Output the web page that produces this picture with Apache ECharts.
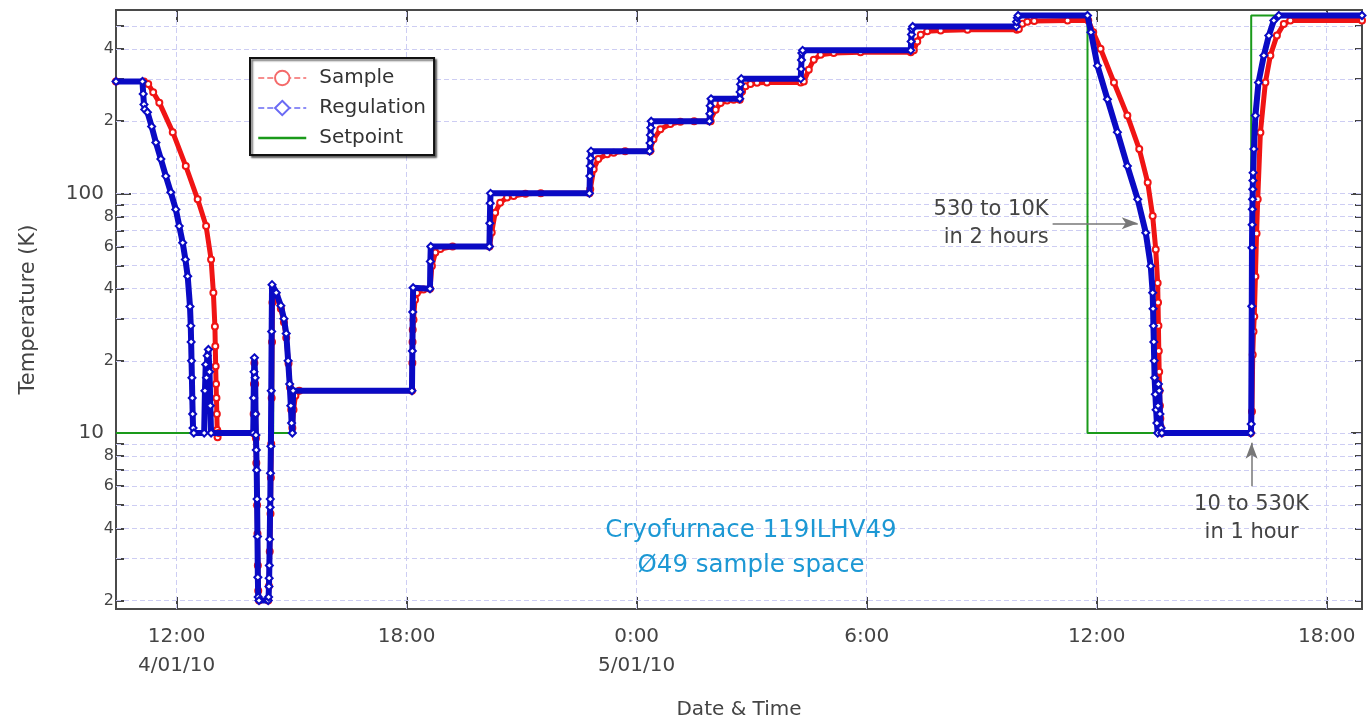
<!DOCTYPE html>
<html>
<head>
<meta charset="utf-8">
<script src="https://cdn.jsdelivr.net/npm/echarts@6/dist/echarts.min.js"></script>
<style>
  html, body { margin: 0; padding: 0; background: #fff; }
  #chart { width: 1369px; height: 720px; }
</style>
</head>
<body>
<div id="chart"></div>
<script>
// Time is counted in hours from 4/01/10 0:00.
const timeRange = [10.42, 42.92];
const tempRange = [1.844, 582];

const xTickValues = [12, 18, 24, 30, 36, 42];
const xTickLabels = ['12:00\n4/01/10', '18:00', '0:00\n5/01/10', '6:00', '12:00', '18:00'];

const yMajorTicks = [10, 100];
const yMinorTicks = [2, 3, 4, 5, 6, 7, 8, 9, 20, 30, 40, 50, 60, 70, 80, 90, 200, 300, 400, 500];
const yMajorLabels = ['10', '100'];
const yMinorLabelValues = [2, 4, 6, 8, 20, 40, 60, 80, 200, 400];
const yMinorLabels = ['2', '4', '6', '8', '2', '4', '6', '8', '2', '4'];
const yGridValues = [2, 3, 4, 5, 6, 7, 8, 9, 10, 20, 30, 40, 50, 60, 70, 80, 90, 100, 200, 300, 400, 500];

// Regulation sensor [hour, K]
const regulation = [
  [10.42, 293], [11.11, 293],
  [11.13, 260], [11.15, 235], [11.17, 224], [11.24, 218], [11.35, 190], [11.46, 163], [11.59, 139],
  [11.72, 118], [11.85, 101], [11.98, 85.7], [12.07, 73], [12.16, 62.2], [12.23, 53], [12.29, 45.1], [12.35, 33.7],
  [12.37, 28], [12.38, 24], [12.39, 20], [12.40, 17], [12.41, 14], [12.42, 12], [12.43, 10.5], [12.45, 10],
  [12.72, 10],
  [12.74, 15], [12.76, 19.3], [12.78, 17], [12.8, 21], [12.83, 22.3], [12.86, 18], [12.88, 13], [12.9, 10],
  [14.0, 10],
  [14.01, 14], [14.02, 18], [14.03, 20.6], [14.05, 17], [14.06, 12], [14.07, 9.8], [14.08, 8.5], [14.09, 7],
  [14.1, 5.3], [14.11, 3.7], [14.12, 2.5], [14.13, 2.07], [14.15, 2.0], [14.39, 2.0],
  [14.40, 2.07], [14.41, 2.29], [14.415, 2.48], [14.42, 2.8], [14.43, 3.6], [14.44, 4.9], [14.445, 5.3],
  [14.45, 6.8], [14.46, 8.8], [14.47, 15], [14.48, 26.5], [14.49, 41.6],
  [14.6, 38.5], [14.72, 34], [14.8, 30], [14.86, 26], [14.91, 20], [14.95, 16], [14.98, 13], [15.0, 11],
  [15.02, 10], [15.04, 15],
  [18.14, 15],
  [18.15, 22], [18.16, 32], [18.17, 40.4], [18.61, 40],
  [18.62, 52], [18.63, 60], [20.16, 60],
  [20.17, 75], [20.18, 91], [20.19, 100], [22.77, 100],
  [22.78, 118], [22.79, 130], [22.8, 140], [22.81, 150], [24.34, 150],
  [24.35, 162], [24.36, 175], [24.37, 188], [24.38, 200], [25.9, 200],
  [25.91, 215], [25.92, 232], [25.94, 248], [26.69, 248],
  [26.7, 265], [26.71, 285], [26.73, 301], [28.28, 301],
  [28.29, 330], [28.3, 360], [28.31, 385], [28.33, 395], [31.15, 395],
  [31.16, 430], [31.17, 460], [31.18, 485], [31.2, 497], [33.9, 497],
  [33.91, 520], [33.93, 540], [33.95, 552], [35.76, 552],
  [35.85, 470], [36.02, 341], [36.28, 247], [36.54, 180], [36.80, 130], [37.07, 94.4], [37.28, 68.5],
  [37.41, 49.7], [37.46, 38.5],
  [37.47, 33], [37.48, 28], [37.49, 24], [37.5, 20], [37.51, 17], [37.53, 14.5], [37.55, 12.5], [37.57, 11], [37.59, 10],
  [37.6, 13], [37.61, 16], [37.63, 15], [37.65, 12], [37.68, 10.5], [37.7, 10],
  [40.02, 10],
  [40.03, 10.9], [40.045, 33.8], [40.05, 59.3], [40.055, 74], [40.06, 85.8], [40.065, 94.5], [40.07, 104],
  [40.075, 113], [40.08, 122], [40.1, 153], [40.14, 211], [40.22, 290], [40.36, 376], [40.49, 455],
  [40.62, 526], [40.75, 552],
  [42.92, 552]
];

// Sample sensor [hour, K]
const sample = [
  [10.42, 293], [11.15, 293],
  [11.26, 286], [11.39, 264], [11.55, 239], [11.90, 180], [12.24, 130], [12.55, 94.4], [12.77, 73],
  [12.90, 53], [12.96, 38.5], [13.0, 27.8],
  [13.01, 23], [13.02, 19], [13.03, 16], [13.04, 14], [13.05, 12], [13.06, 10.3], [13.07, 9.6], [13.1, 10],
  [14.0, 10],
  [14.01, 12], [14.02, 16], [14.03, 19.6], [14.05, 16], [14.06, 12], [14.07, 9.5], [14.08, 7.5], [14.1, 5],
  [14.11, 3.8], [14.12, 2.8], [14.13, 2.2], [14.15, 2.0], [14.39, 2.0],
  [14.41, 2.3], [14.43, 3.2], [14.45, 4.6], [14.46, 6.5], [14.47, 9], [14.48, 14], [14.49, 24], [14.5, 35], [14.52, 39],
  [14.6, 37.5], [14.72, 33], [14.8, 29], [14.86, 25], [14.92, 19.5], [14.96, 15.5], [14.99, 12.5], [15.02, 10.5],
  [15.05, 12.5], [15.1, 14.3], [15.2, 15],
  [18.14, 15],
  [18.15, 19.6], [18.155, 24], [18.16, 27], [18.18, 29.7], [18.22, 36], [18.27, 38.4], [18.44, 39.7], [18.61, 40],
  [18.66, 49.7], [18.75, 56.6], [18.88, 58.6], [19.2, 60], [20.16, 60],
  [20.22, 68.7], [20.31, 83], [20.44, 91.4], [20.62, 96], [20.79, 97.5], [21.1, 99.5], [21.5, 100], [22.77, 100],
  [22.79, 104], [22.88, 126], [23.0, 139], [23.23, 145.5], [23.4, 147.7], [23.7, 150], [24.34, 150],
  [24.36, 151], [24.44, 168], [24.62, 185], [24.88, 194.5], [25.14, 199], [25.5, 200], [25.9, 200],
  [25.93, 200], [26.06, 223], [26.19, 238], [26.36, 244], [26.53, 246], [26.69, 246],
  [26.75, 266], [26.84, 280], [26.97, 286], [27.14, 289], [27.4, 290], [28.28, 290],
  [28.36, 293], [28.49, 328], [28.62, 361], [28.80, 379], [29.14, 385], [29.84, 388], [31.15, 388],
  [31.23, 395], [31.32, 430], [31.41, 459], [31.58, 474], [31.93, 478], [32.63, 481], [33.92, 481],
  [33.97, 485], [34.06, 510], [34.19, 520], [34.37, 524], [35.24, 526], [35.78, 526],
  [35.91, 470], [36.10, 401], [36.45, 290], [36.80, 211], [37.11, 153], [37.33, 111], [37.46, 80.4],
  [37.54, 58.3], [37.59, 42.3],
  [37.6, 35], [37.61, 28], [37.62, 22], [37.63, 18], [37.64, 15], [37.65, 13], [37.66, 11.5], [37.67, 10.6], [37.7, 10],
  [40.02, 10],
  [40.05, 12.3], [40.07, 21.2], [40.09, 26.5], [40.11, 30.6], [40.14, 45], [40.17, 68], [40.20, 94.4],
  [40.27, 179.6], [40.40, 290], [40.53, 376], [40.70, 455], [40.88, 509], [41.05, 526],
  [42.92, 526]
];

// Controller setpoint: [hour the new value starts, K]
const setpoint = [
  [10.42, 10], [14.09, 2], [14.44, 40], [14.52, 10], [14.99, 15], [18.14, 40], [18.61, 60], [20.16, 100],
  [22.77, 150], [24.34, 200], [25.9, 250], [26.69, 300], [28.28, 400], [31.15, 500], [33.9, 552],
  [35.76, 10], [40.03, 552], [42.92, 552]
];

const coolArrow = { from: [34.85, 75], to: [37.07, 75], text: '530 to 10K\nin 2 hours' };
const heatArrow = { from: [40.04, 6.0], to: [40.04, 9.1], text: '10 to 530K\nin 1 hour' };

const FONT = "'DejaVu Sans', Verdana, sans-serif";
const INK = '#444';
const FRAME = '#4a4a4a';
const GRID = '#cdcdf3';
const RED = '#f01414';
const BLUE = '#0a0ac4';
const GREEN = '#1a9a1a';

function lookup(values, texts) {
  return function (v) {
    for (let i = 0; i < values.length; i++) {
      if (Math.abs(values[i] - v) <= 1e-6 * Math.max(1, values[i])) return texts[i];
    }
    return '';
  };
}

function yAxis(position, ticks, tickLen, labelValues, labelTexts, fontSize, margin, extra) {
  return Object.assign({
    type: 'log',
    logBase: 10,
    position: position,
    min: tempRange[0],
    max: tempRange[1],
    axisLine: { show: false },
    splitLine: { show: false },
    minorTick: { show: false },
    axisTick: {
      show: true, inside: true, length: tickLen,
      customValues: ticks,
      lineStyle: { color: INK, width: 2 }
    },
    axisLabel: labelValues ? {
      show: true,
      customValues: labelValues,
      formatter: lookup(labelValues, labelTexts),
      fontFamily: FONT, fontSize: fontSize, color: INK, margin: margin
    } : { show: false }
  }, extra || {});
}

function xAxis(position, withLabels, extra) {
  return Object.assign({
    type: 'value',
    position: position,
    min: timeRange[0],
    max: timeRange[1],
    axisLine: { show: false },
    splitLine: { show: false },
    axisTick: {
      show: true, inside: true, length: 12,
      customValues: xTickValues,
      lineStyle: { color: INK, width: 2 }
    },
    axisLabel: withLabels ? {
      show: true,
      customValues: xTickValues,
      formatter: lookup(xTickValues, xTickLabels),
      fontFamily: FONT, fontSize: 20, color: INK, margin: 13, lineHeight: 29
    } : { show: false }
  }, extra || {});
}

const chart = echarts.init(document.getElementById('chart'), null, { renderer: 'canvas' });

chart.setOption({
  animation: false,
  backgroundColor: '#fff',
  grid: {
    left: 116, right: 7, top: 10, bottom: 111,
    outerBoundsMode: 'none',
    containLabel: false,
    show: true, borderColor: FRAME, borderWidth: 2, backgroundColor: 'transparent'
  },
  legend: {
    data: [
      { name: 'Sample', lineStyle: { type: 'dashed', width: 1.5, color: '#f46a6a' }, itemStyle: { color: '#f46a6a' } },
      { name: 'Regulation', lineStyle: { type: 'dashed', width: 1.5, color: '#6a6af4' }, itemStyle: { color: '#6a6af4' } },
      { name: 'Setpoint', lineStyle: { type: 'solid', width: 2.5, color: GREEN }, itemStyle: { opacity: 0 } }
    ],
    orient: 'vertical',
    left: 250, top: 58,
    itemWidth: 48, itemHeight: 18, itemGap: 10,
    padding: [10, 8, 7, 7],
    backgroundColor: '#fff',
    borderColor: '#111', borderWidth: 2, borderRadius: 0,
    shadowColor: 'rgba(0,0,0,0.55)', shadowBlur: 2, shadowOffsetX: 2, shadowOffsetY: 2,
    textStyle: { fontFamily: FONT, fontSize: 20, color: '#333', padding: [0, 0, 0, 8] }
  },
  xAxis: [
    xAxis('bottom', true, {
      name: 'Date & Time', nameLocation: 'middle', nameGap: 91,
      nameTextStyle: { fontFamily: FONT, fontSize: 20, color: INK }
    }),
    xAxis('top', false)
  ],
  yAxis: [
    yAxis('left', yMajorTicks, 15, yMajorTicks, yMajorLabels, 20, 12, {
      name: 'Temperature (K)', nameLocation: 'middle', nameGap: 77, nameRotate: 90,
      nameTextStyle: { fontFamily: FONT, fontSize: 21, color: INK }
    }),
    yAxis('left', yMinorTicks, 8, yMinorLabelValues, yMinorLabels, 16, 2),
    yAxis('right', yMajorTicks, 11, null),
    yAxis('right', yMinorTicks, 7, null)
  ],
  graphic: [{
    type: 'text',
    x: 751, y: 548,
    style: {
      text: 'Cryofurnace 119ILHV49\nØ49 sample space',
      fontFamily: FONT, fontSize: 24.5, lineHeight: 35,
      fill: '#1c98d4', align: 'center', verticalAlign: 'middle'
    },
    z: 10
  }],
  series: [
    {
      name: 'Setpoint',
      type: 'line',
      step: 'end',
      data: setpoint,
      symbol: 'none',
      lineStyle: { color: GREEN, width: 2 },
      itemStyle: { color: GREEN },
      z: 2,
      markLine: {
        silent: true,
        z: 1,
        symbol: 'none',
        label: { show: false },
        lineStyle: { color: GRID, width: 1, type: [5, 3] },
        data: yGridValues.map(v => ({ yAxis: v })).concat(xTickValues.map(v => ({ xAxis: v })))
      }
    },
    {
      name: 'Sample',
      type: 'line',
      data: sample,
      symbol: 'emptyCircle',
      symbolSize: 6,
      showAllSymbol: true,
      lineStyle: { color: RED, width: 5 },
      itemStyle: { color: RED, borderWidth: 1 },
      z: 3
    },
    {
      name: 'Regulation',
      type: 'line',
      data: regulation,
      symbol: 'emptyDiamond',
      symbolSize: 7,
      showAllSymbol: true,
      lineStyle: { color: BLUE, width: 6 },
      itemStyle: { color: BLUE, borderWidth: 1 },
      z: 4,
      markLine: {
        silent: true,
        z: 6,
        lineStyle: { color: '#777', width: 1.5, type: 'solid' },
        symbolSize: [9, 16],
        label: {
          show: true, position: 'start', distance: 4,
          fontFamily: FONT, fontSize: 21, color: INK, lineHeight: 28
        },
        data: [coolArrow, heatArrow].map(a => [
          { coord: a.from, symbol: 'none', label: { formatter: a.text } },
          { coord: a.to, symbol: 'arrow' }
        ])
      }
    }
  ]
});
</script>
</body>
</html>
